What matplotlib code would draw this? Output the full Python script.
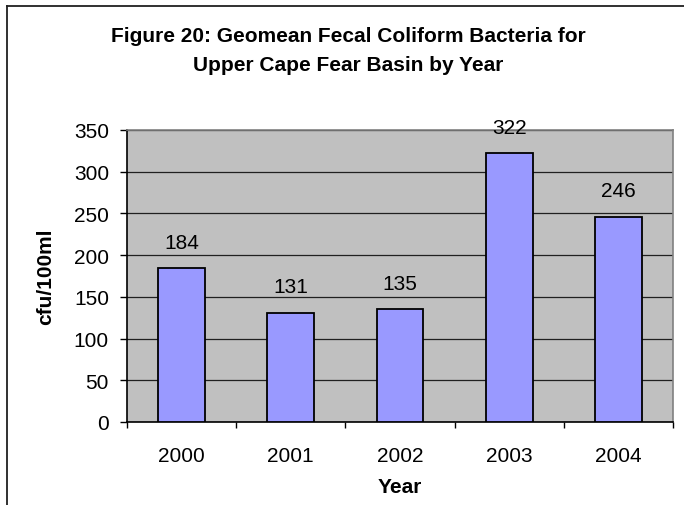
import matplotlib.pyplot as plt
import numpy as np

plt.rcParams['font.family'] = ['Liberation Sans', 'DejaVu Sans']

years = ['2000', '2001', '2002', '2003', '2004']
geomean = [184, 131, 135, 322, 246]

W, H = 684, 506
fig = plt.figure(figsize=(W / 100, H / 100), dpi=100)


def fx(px):
    return px / W


def fy(py):
    return 1 - py / H


# chart border (only the left and top edges fall inside the image)
fig.add_artist(plt.Line2D([fx(6.5), fx(6.5)], [0, fy(6.5)], color='#202020', lw=1.3))
fig.add_artist(plt.Line2D([fx(6.5), 1.0], [fy(6.5), fy(6.5)], color='#202020', lw=1.3))

ax = fig.add_axes([fx(127), fy(423), fx(673) - fx(127), fy(131) - fy(423)])
ax.set_facecolor('#C0C0C0')

x = np.arange(len(years))
bars = ax.bar(x, geomean, width=0.43, color='#9999FF', edgecolor='black', linewidth=1.3, zorder=3)
ax.bar_label(bars, padding=12, fontsize=15)

ax.set_xlim(-0.5, len(years) - 0.5)
ax.set_ylim(0, 350)
ax.set_yticks(np.arange(0, 351, 50))
ax.yaxis.grid(True, color='#202020', linewidth=0.9, zorder=0)

# ticks sit between the categories, labels under each bar
ax.set_xticks(np.arange(-0.5, len(years)))
ax.set_xticklabels([''] * (len(years) + 1))
ax.set_xticks(x, minor=True)
ax.set_xticklabels(years, minor=True)
ax.tick_params(axis='x', which='minor', length=0, pad=17, labelsize=15)
ax.tick_params(axis='x', which='major', length=4, width=1.0, direction='out')
ax.tick_params(axis='y', length=5, width=1.0, direction='out', labelsize=15, pad=8)

for side in ['top', 'right']:
    ax.spines[side].set_color('#808080')
    ax.spines[side].set_linewidth(1.2)
ax.spines['left'].set_linewidth(1.2)
ax.spines['bottom'].set_linewidth(1.2)

ax.set_ylabel('cfu/100ml', fontsize=15, fontweight='bold', va='center')
ax.yaxis.set_label_coords((46 - 127) / 546, 0.5)
ax.text(0.5, (423 - 493) / 292, 'Year', transform=ax.transAxes,
        ha='center', va='baseline', fontsize=15, fontweight='bold')

fig.text(fx(348), fy(42), 'Figure 20: Geomean Fecal Coliform Bacteria for',
         ha='center', va='baseline', fontsize=15, fontweight='bold')
fig.text(fx(348), fy(71), 'Upper Cape Fear Basin by Year',
         ha='center', va='baseline', fontsize=15, fontweight='bold')

fig.savefig('out.png', dpi=100)
